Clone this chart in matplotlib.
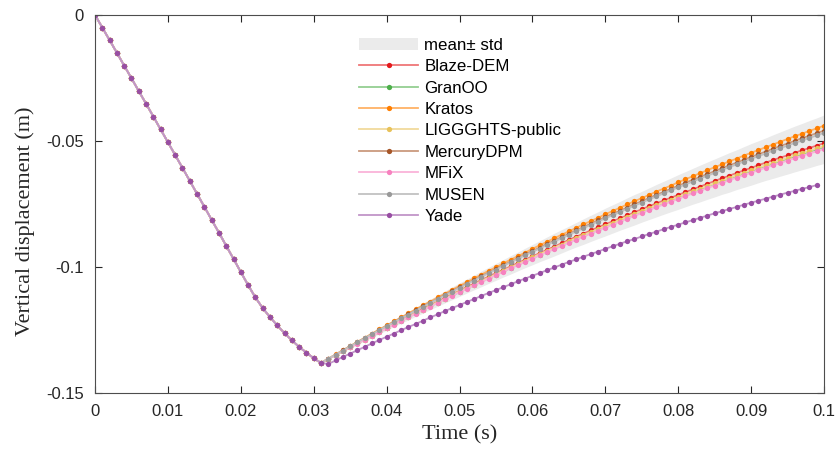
import numpy as np
import matplotlib
matplotlib.use('Agg')
import matplotlib.pyplot as plt
from matplotlib.ticker import FormatStrFormatter, MultipleLocator

plt.rcParams['font.family'] = ['Liberation Sans', 'DejaVu Sans']
plt.rcParams['axes.unicode_minus'] = False

# time, s (one sample per ms)
t = np.round(np.arange(101) * 0.001, 3)

# shared approach + contact phase, t = 0 .. 0.031 s
descent = [0.0, -0.0050, -0.0100, -0.0150, -0.0201, -0.0251, -0.0302, -0.0352, -0.0403, -0.0454,
           -0.0505, -0.0556, -0.0607, -0.0658, -0.0710, -0.0761, -0.0813, -0.0864, -0.0916, -0.0968,
           -0.1020, -0.1072, -0.1121, -0.1163, -0.1199, -0.1232, -0.1263, -0.1291, -0.1317, -0.1340,
           -0.1362, -0.1381]

# rebound, t = 0.032 .. 0.100 s
blaze_rise = [-0.1365, -0.1349, -0.1333, -0.1318, -0.1302, -0.1287, -0.1271, -0.1256, -0.1241, -0.1226,
              -0.1211, -0.1196, -0.1181, -0.1166, -0.1152, -0.1137, -0.1123, -0.1109, -0.1094, -0.1080,
              -0.1066, -0.1052, -0.1038, -0.1025, -0.1011, -0.0998, -0.0984, -0.0971, -0.0958, -0.0945,
              -0.0932, -0.0919, -0.0906, -0.0893, -0.0880, -0.0868, -0.0855, -0.0843, -0.0831, -0.0819,
              -0.0807, -0.0795, -0.0783, -0.0771, -0.0759, -0.0748, -0.0736, -0.0725, -0.0714, -0.0703,
              -0.0692, -0.0681, -0.0670, -0.0659, -0.0648, -0.0638, -0.0627, -0.0617, -0.0607, -0.0596,
              -0.0586, -0.0576, -0.0566, -0.0557, -0.0547, -0.0537, -0.0528, -0.0518, -0.0509]
granoo_rise = [-0.1365, -0.1350, -0.1334, -0.1319, -0.1303, -0.1288, -0.1273, -0.1258, -0.1243, -0.1228,
               -0.1213, -0.1199, -0.1184, -0.1170, -0.1155, -0.1141, -0.1127, -0.1113, -0.1099, -0.1085,
               -0.1071, -0.1057, -0.1044, -0.1030, -0.1017, -0.1004, -0.0990, -0.0977, -0.0964, -0.0951,
               -0.0939, -0.0926, -0.0913, -0.0901, -0.0888, -0.0876, -0.0864, -0.0852, -0.0840, -0.0828,
               -0.0816, -0.0804, -0.0793, -0.0781, -0.0770, -0.0758, -0.0747, -0.0736, -0.0725, -0.0714,
               -0.0703, -0.0693, -0.0682, -0.0671, -0.0661, -0.0651, -0.0640, -0.0630, -0.0620, -0.0610,
               -0.0600, -0.0591, -0.0581, -0.0571, -0.0562, -0.0553, -0.0543, -0.0534, -0.0525]
kratos_rise = [-0.1364, -0.1347, -0.1330, -0.1314, -0.1297, -0.1281, -0.1264, -0.1248, -0.1232, -0.1216,
               -0.1200, -0.1184, -0.1168, -0.1152, -0.1137, -0.1121, -0.1106, -0.1090, -0.1075, -0.1060,
               -0.1045, -0.1030, -0.1015, -0.1001, -0.0986, -0.0971, -0.0957, -0.0943, -0.0928, -0.0914,
               -0.0900, -0.0886, -0.0872, -0.0859, -0.0845, -0.0831, -0.0818, -0.0805, -0.0791, -0.0778,
               -0.0765, -0.0752, -0.0739, -0.0727, -0.0714, -0.0701, -0.0689, -0.0677, -0.0664, -0.0652,
               -0.0640, -0.0628, -0.0616, -0.0604, -0.0593, -0.0581, -0.0570, -0.0558, -0.0547, -0.0536,
               -0.0525, -0.0514, -0.0503, -0.0492, -0.0481, -0.0471, -0.0460, -0.0450, -0.0439]
liggghts_rise = [-0.1365, -0.1349, -0.1334, -0.1318, -0.1303, -0.1288, -0.1272, -0.1257, -0.1242, -0.1227,
                 -0.1212, -0.1198, -0.1183, -0.1169, -0.1154, -0.1140, -0.1126, -0.1111, -0.1097, -0.1083,
                 -0.1070, -0.1056, -0.1042, -0.1029, -0.1015, -0.1002, -0.0989, -0.0975, -0.0962, -0.0949,
                 -0.0936, -0.0924, -0.0911, -0.0898, -0.0886, -0.0874, -0.0861, -0.0849, -0.0837, -0.0825,
                 -0.0813, -0.0801, -0.0790, -0.0778, -0.0767, -0.0755, -0.0744, -0.0733, -0.0722, -0.0711,
                 -0.0700, -0.0689, -0.0678, -0.0668, -0.0657, -0.0647, -0.0636, -0.0626, -0.0616, -0.0606,
                 -0.0596, -0.0586, -0.0577, -0.0567, -0.0557, -0.0548, -0.0539, -0.0529, -0.0520]
mercury_rise = [-0.1364, -0.1348, -0.1331, -0.1315, -0.1298, -0.1282, -0.1266, -0.1250, -0.1234, -0.1218,
                -0.1203, -0.1187, -0.1172, -0.1156, -0.1141, -0.1126, -0.1110, -0.1095, -0.1080, -0.1066,
                -0.1051, -0.1036, -0.1022, -0.1007, -0.0993, -0.0979, -0.0965, -0.0950, -0.0937, -0.0923,
                -0.0909, -0.0895, -0.0882, -0.0868, -0.0855, -0.0842, -0.0828, -0.0815, -0.0802, -0.0789,
                -0.0777, -0.0764, -0.0751, -0.0739, -0.0727, -0.0714, -0.0702, -0.0690, -0.0678, -0.0666,
                -0.0654, -0.0643, -0.0631, -0.0620, -0.0608, -0.0597, -0.0586, -0.0575, -0.0563, -0.0553,
                -0.0542, -0.0531, -0.0520, -0.0510, -0.0499, -0.0489, -0.0479, -0.0469, -0.0459]
mfix_rise = [-0.1365, -0.1350, -0.1334, -0.1319, -0.1304, -0.1289, -0.1274, -0.1259, -0.1244, -0.1229,
             -0.1214, -0.1200, -0.1185, -0.1171, -0.1157, -0.1143, -0.1128, -0.1114, -0.1101, -0.1087,
             -0.1073, -0.1060, -0.1046, -0.1033, -0.1019, -0.1006, -0.0993, -0.0980, -0.0967, -0.0954,
             -0.0942, -0.0929, -0.0917, -0.0904, -0.0892, -0.0880, -0.0868, -0.0856, -0.0844, -0.0832,
             -0.0820, -0.0809, -0.0797, -0.0786, -0.0774, -0.0763, -0.0752, -0.0741, -0.0730, -0.0719,
             -0.0708, -0.0698, -0.0687, -0.0677, -0.0666, -0.0656, -0.0646, -0.0636, -0.0626, -0.0616,
             -0.0606, -0.0597, -0.0587, -0.0578, -0.0568, -0.0559, -0.0550, -0.0541, -0.0532]
musen_rise = [-0.1364, -0.1348, -0.1332, -0.1315, -0.1299, -0.1283, -0.1267, -0.1251, -0.1235, -0.1220,
              -0.1204, -0.1189, -0.1173, -0.1158, -0.1143, -0.1128, -0.1113, -0.1098, -0.1083, -0.1068,
              -0.1054, -0.1039, -0.1025, -0.1010, -0.0996, -0.0982, -0.0968, -0.0954, -0.0940, -0.0927,
              -0.0913, -0.0899, -0.0886, -0.0873, -0.0859, -0.0846, -0.0833, -0.0820, -0.0807, -0.0795,
              -0.0782, -0.0769, -0.0757, -0.0745, -0.0732, -0.0720, -0.0708, -0.0696, -0.0684, -0.0673,
              -0.0661, -0.0649, -0.0638, -0.0627, -0.0615, -0.0604, -0.0593, -0.0582, -0.0571, -0.0560,
              -0.0550, -0.0539, -0.0529, -0.0518, -0.0508, -0.0498, -0.0488, -0.0478, -0.0468]
# Yade: t = 0.032 .. 0.099 s
yade_rise = [-0.1385, -0.1371, -0.1357, -0.1344, -0.1330, -0.1317, -0.1303, -0.1290, -0.1277, -0.1264,
             -0.1251, -0.1238, -0.1226, -0.1213, -0.1200, -0.1188, -0.1175, -0.1163, -0.1151, -0.1139,
             -0.1127, -0.1115, -0.1103, -0.1092, -0.1080, -0.1069, -0.1057, -0.1046, -0.1035, -0.1024,
             -0.1013, -0.1002, -0.0991, -0.0980, -0.0970, -0.0959, -0.0949, -0.0939, -0.0928, -0.0918,
             -0.0908, -0.0898, -0.0889, -0.0879, -0.0869, -0.0860, -0.0850, -0.0841, -0.0832, -0.0823,
             -0.0814, -0.0805, -0.0796, -0.0787, -0.0779, -0.0770, -0.0762, -0.0753, -0.0745, -0.0737,
             -0.0729, -0.0721, -0.0713, -0.0705, -0.0698, -0.0690, -0.0683, -0.0675]

codes = ['Blaze-DEM', 'GranOO', 'Kratos', 'LIGGGHTS-public', 'MercuryDPM', 'MFiX', 'MUSEN', 'Yade']
rises = [blaze_rise, granoo_rise, kratos_rise, liggghts_rise, mercury_rise, mfix_rise, musen_rise, yade_rise]
colors = ['#e41a1c', '#4daf4a', '#ff7f00', '#e8c25a', '#a65628', '#f781bf', '#999999', '#984ea3']
band_k = 2.6  # spread of the shaded band, in std

series = [np.array(descent + r) for r in rises]
full = np.array(series[:7])
mean = full.mean(axis=0)
std = full.std(axis=0, ddof=1)

fig = plt.figure(figsize=(8.35, 4.5), dpi=100)
ax = fig.add_axes([0.1138, 0.1267, 0.873, 0.84])

ax.fill_between(t, mean - band_k * std, mean + band_k * std, color='#ebebeb', lw=0,
                label='mean\u00b1 std', zorder=1)
for name, y, c in zip(codes, series, colors):
    rgb = np.array(matplotlib.colors.to_rgb(c))
    tint = tuple(rgb * 0.6 + 0.4)  # lighter line, solid dots
    ax.plot(t[:len(y)], y, '-o', color=tint, mfc=c, mec=c, ms=3.8, mew=0, lw=1.3,
            label=name, zorder=2)

ax.set_xlim(0, 0.1)
ax.set_ylim(-0.15, 0)
ax.xaxis.set_major_locator(MultipleLocator(0.01))
ax.yaxis.set_major_locator(MultipleLocator(0.05))
ax.xaxis.set_major_formatter(FormatStrFormatter('%g'))
ax.yaxis.set_major_formatter(FormatStrFormatter('%g'))
ax.tick_params(direction='in', top=True, right=True, length=5, width=0.8, colors='#262626',
               labelsize=12, pad=8)
for s in ax.spines.values():
    s.set_color('#4d4d4d')
    s.set_linewidth(0.8)

ax.set_xlabel('Time (s)', family='Liberation Serif', fontsize=16, color='#262626')
ax.set_ylabel('Vertical displacement (m)', family='Liberation Serif', fontsize=16, color='#262626')
ax.xaxis.set_label_coords(0.5, -0.085)
ax.yaxis.set_label_coords(-0.083, 0.455)

ax.legend(loc='upper left', bbox_to_anchor=(0.362, 0.94), frameon=False, fontsize=12.2,
          handlelength=3.5, handletextpad=0.35, labelspacing=0.38, borderaxespad=0, borderpad=0)

fig.savefig('out.png', dpi=100)
plt.close()
